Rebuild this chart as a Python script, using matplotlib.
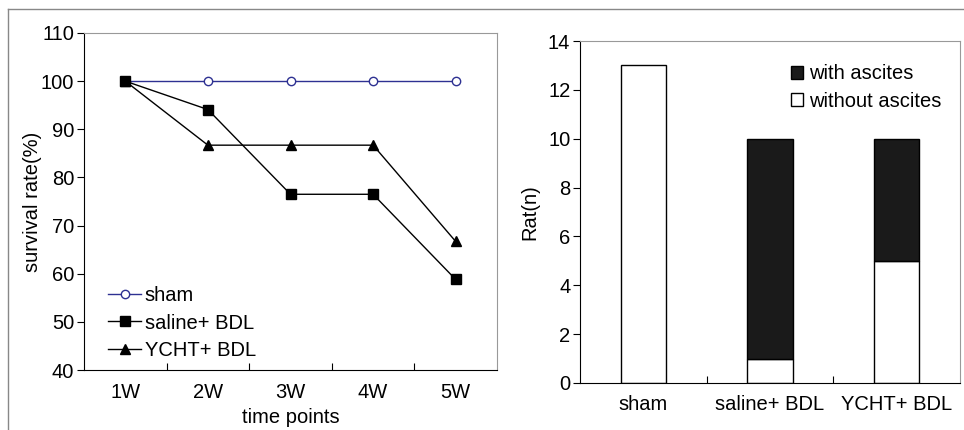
import numpy as np
import matplotlib
matplotlib.use("Agg")
import matplotlib.pyplot as plt
from matplotlib.lines import Line2D

plt.rcParams['font.family'] = ['Liberation Sans', 'DejaVu Sans']
plt.rcParams['font.size'] = 14.5

# survival data
weeks = ['1W', '2W', '3W', '4W', '5W']
sham = [100, 100, 100, 100, 100]
saline = [100, 94.1, 76.5, 76.5, 58.8]
ycht = [100, 86.7, 86.7, 86.7, 66.7]

# ascites data
groups = ['sham', 'saline+ BDL', 'YCHT+ BDL']
without_ascites = [13, 1, 5]
with_ascites = [0, 9, 5]

fig = plt.figure(figsize=(9.64, 4.30), dpi=100)

# outer frame lines
fig.add_artist(Line2D([8/964, 1], [1-9/430, 1-9/430], color='#888888', lw=1))
fig.add_artist(Line2D([8/964, 8/964], [1-9/430, 0], color='#888888', lw=1))

navy = '#2e3192'
gray = '#999999'

# left panel
ax1 = fig.add_axes([84/964, 1-370/430, 413/964, 337/430])
x = np.arange(1, 6)
ax1.plot(x, sham, '-o', color=navy, mfc='white', mec=navy, ms=6, lw=1, label='sham')
ax1.plot(x, saline, '-s', color='black', mfc='black', ms=6.5, lw=1, label='saline+ BDL')
ax1.plot(x, ycht, '-^', color='black', mfc='black', ms=7, lw=1, label='YCHT+ BDL')
ax1.set_xlim(0.5, 5.5)
ax1.set_ylim(40, 110)
ax1.set_yticks(range(40, 111, 10))
ax1.set_xticks(np.arange(1.5, 5, 1))
ax1.set_xticklabels([])
ax1.set_xticks(x, minor=True)
ax1.set_xticklabels(weeks, minor=True)
ax1.tick_params(axis='x', which='major', direction='in', length=5)
ax1.tick_params(axis='x', which='minor', length=0, pad=9)
ax1.tick_params(axis='y', direction='out', length=5, pad=2)
ax1.set_xlabel('time points', labelpad=5)
ax1.set_ylabel('survival rate(%)', labelpad=-1)
for s in ['top', 'right']:
    ax1.spines[s].set_color(gray)
ax1.legend(loc='lower left', bbox_to_anchor=(0.03, -0.005), frameon=False,
           handlelength=1.6, handletextpad=0.2, labelspacing=0.4, borderaxespad=0.2)

# right panel
ax2 = fig.add_axes([580/964, 1-383/430, 380/964, 342/430])
xb = np.arange(1, 4)
bw = 0.36
w = np.array(with_ascites)
wo = np.array(without_ascites)
ax2.bar(xb, wo, bw, color='white', edgecolor='black', lw=1, label='without ascites')
nz = w > 0
ax2.bar(xb[nz], w[nz], bw, bottom=wo[nz], color='#1a1a1a', edgecolor='black', lw=1,
        label='with ascites')
ax2.set_xlim(0.5, 3.5)
ax2.set_ylim(0, 14)
ax2.set_yticks(range(0, 15, 2))
ax2.set_xticks(np.arange(1.5, 3, 1))
ax2.set_xticklabels([])
ax2.set_xticks(xb, minor=True)
ax2.set_xticklabels(groups, minor=True)
ax2.tick_params(axis='x', which='major', direction='in', length=5)
ax2.tick_params(axis='x', which='minor', length=0, pad=9)
ax2.tick_params(axis='y', direction='out', length=5, pad=2)
ax2.set_ylabel('Rat(n)', labelpad=6)
for s in ['top', 'right']:
    ax2.spines[s].set_color(gray)
h, l = ax2.get_legend_handles_labels()
ax2.legend(h[::-1], l[::-1], loc='upper right', bbox_to_anchor=(1.0, 0.985), frameon=False,
           handlelength=0.6, handleheight=0.6, handletextpad=0.3, labelspacing=0.42)

fig.savefig('out.png', dpi=100)
